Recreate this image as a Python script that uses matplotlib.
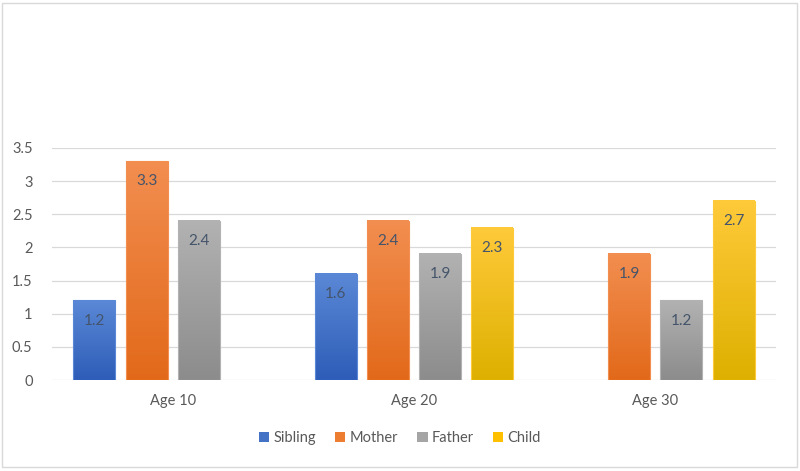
import numpy as np
import matplotlib.pyplot as plt
from matplotlib.colors import LinearSegmentedColormap
from matplotlib.patches import Rectangle

plt.rcParams['font.family'] = ['Lato', 'DejaVu Sans']

groups = ["Age 10", "Age 20", "Age 30"]
series = ["Sibling", "Mother", "Father", "Child"]
sibling = [1.2, 1.6, np.nan]
mother = [3.3, 2.4, 1.9]
father = [2.4, 1.9, 1.2]
child = [np.nan, 2.3, 2.7]
values = [sibling, mother, father, child]

base_colors = ["#4472C4", "#ED7D31", "#A5A5A5", "#FFC000"]
# top (light) -> bottom (dark) for the gradient fill
grad_colors = [("#5B88D6", "#2D5DB8"), ("#F28E50", "#E2691A"),
               ("#B2B2B2", "#8C8C8C"), ("#FFCA3A", "#DDB000")]

fig = plt.figure(figsize=(8, 4.71), dpi=100)
ax = fig.add_axes([0.065, 0.193, 0.905, 0.493])

x = np.arange(len(groups))
width = 0.174
step = 0.216
grad = np.linspace(1, 0, 256).reshape(-1, 1)

for i, name in enumerate(series):
    pos = x + (i - 1.5) * step
    bars = ax.bar(pos, values[i], width, color=base_colors[i], label=name,
                  edgecolor="none", zorder=2)
    cmap = LinearSegmentedColormap.from_list(name, [grad_colors[i][1], grad_colors[i][0]])
    for b, v in zip(bars, values[i]):
        if np.isnan(v):
            continue
        x0, w, h = b.get_x(), b.get_width(), b.get_height()
        ax.imshow(grad, extent=[x0, x0 + w, 0, h], cmap=cmap, aspect="auto",
                  zorder=3, origin="upper")
        ax.add_patch(Rectangle((x0, 0), w, h, fill=False,
                               edgecolor=grad_colors[i][0], lw=0.8, zorder=4))
        ax.annotate(f"{v:g}", (x0 + w / 2, h), xytext=(0, -14.5),
                    textcoords="offset points", ha="center", va="center",
                    fontsize=11, color="#44546A", zorder=5)

ax.set_xlim(-0.5, 2.5)
ax.set_ylim(0, 3.5)
ax.set_yticks(np.arange(0, 3.51, 0.5))
ax.set_yticklabels(["0", "0.5", "1", "1.5", "2", "2.5", "3", "3.5"])
ax.set_xticks(x)
ax.set_xticklabels(groups)
ax.yaxis.grid(True, color="#D9D9D9", lw=0.9, zorder=0)
ax.set_axisbelow(True)
for s in ax.spines.values():
    s.set_visible(False)
ax.tick_params(length=0, labelsize=10.5, colors="#595959")
ax.tick_params(axis="y", pad=14)
ax.tick_params(axis="x", pad=10)

ax.legend(loc="center", bbox_to_anchor=(0.5, (471 - 438) / 471), bbox_transform=fig.transFigure,
          ncol=4, frameon=False, fontsize=10.5, handlelength=0.7, handleheight=0.7,
          handletextpad=0.3, columnspacing=1.3, labelcolor="#595959")

fig.patches.append(Rectangle((0.003, 0.008), 0.993, 0.985, transform=fig.transFigure,
                             fill=False, edgecolor="#D9D9D9", lw=1))

fig.savefig("out.png", dpi=100)
